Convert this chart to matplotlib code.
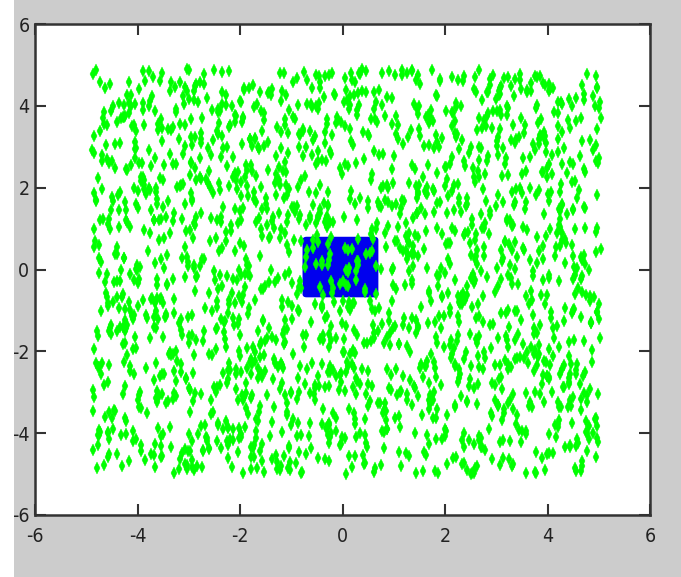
import numpy as np
import matplotlib
matplotlib.use("Agg")
import matplotlib.pyplot as plt
from matplotlib.patches import FancyBboxPatch, Rectangle

# Uniform cloud of sample points over the square [-5, 5] x [-5, 5]
n_points = 2000
rng = np.random.default_rng(7)
pts_x = rng.uniform(-4.9, 5.05, n_points)
pts_y = rng.uniform(-5.0, 4.9, n_points)

# Highlighted window around the origin
box_x = [-0.78, 0.70]
box_y = [-0.68, 0.80]

x_ticks = [-6, -4, -2, 0, 2, 4, 6]
y_ticks = [-6, -4, -2, 0, 2, 4, 6]

plt.rcParams['font.family'] = ['DejaVu Sans']
plt.rcParams['font.stretch'] = 'condensed'

fig = plt.figure(figsize=(6.81, 5.77), dpi=100, facecolor='#cccccc')
W, H = 681, 577
ax = fig.add_axes([35 / W, 1 - 515 / H, (650 - 35) / W, (515 - 24) / H])
ax.set_facecolor('white')

ax.add_patch(FancyBboxPatch((box_x[0], box_y[0]), box_x[1] - box_x[0], box_y[1] - box_y[0],
                            boxstyle="round,pad=0,rounding_size=0.08",
                            facecolor='#0000ee', edgecolor='none', zorder=1))
ax.plot(pts_x, pts_y, linestyle='none', marker='d', markersize=5.8,
        markerfacecolor='#00ff00', markeredgecolor='#00ff00', markeredgewidth=0.3, zorder=2)

ax.set_xlim(-6, 6)
ax.set_ylim(-6, 6)
ax.set_xticks(x_ticks)
ax.set_yticks(y_ticks)
ax.set_xticklabels([str(t) for t in x_ticks])
ax.set_yticklabels([str(t) for t in y_ticks])
ax.tick_params(direction='in', length=8, width=1.5, color='#333333',
               top=True, right=True, labelsize=14, labelcolor='#222222', pad=9)
ax.tick_params(axis='y', pad=4)
for s in ax.spines.values():
    s.set_linewidth(1.8)
    s.set_color('#333333')

# White strip along the left edge of the canvas
fig.add_artist(Rectangle((0, 0), 14 / W, 1, transform=fig.transFigure,
                         facecolor='white', edgecolor='none', zorder=10))

fig.savefig('out.png', dpi=100, facecolor=fig.get_facecolor())
